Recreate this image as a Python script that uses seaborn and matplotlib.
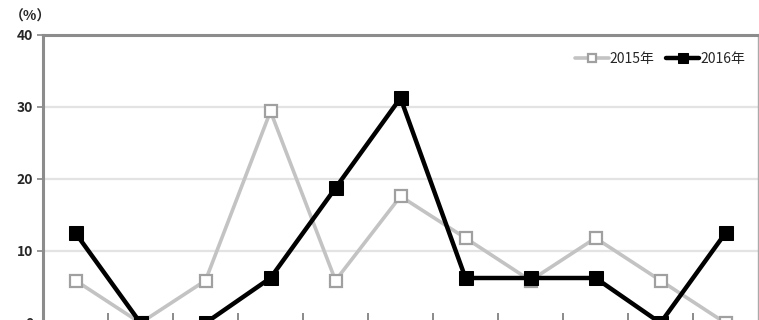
import matplotlib
matplotlib.use("Agg")
import matplotlib.pyplot as plt
import seaborn as sns
import pandas as pd
import numpy as np

positions = list(range(11))
v2015 = [5.9, 0, 5.9, 29.4, 5.9, 17.6, 11.8, 5.9, 11.8, 5.9, 0]
v2016 = [12.5, 0, 0, 6.25, 18.75, 31.25, 6.25, 6.25, 6.25, 0, 12.5]
series_names = ["2015年", "2016年"]
yticks = [0, 10, 20, 30, 40]

sns.set_style("white")
plt.rcParams['font.family'] = ['Noto Sans CJK JP', 'DejaVu Sans']

df = pd.DataFrame({
    "pos": positions * 2,
    "val": v2015 + v2016,
    "series": [series_names[0]] * len(v2015) + [series_names[1]] * len(v2016),
})

fig = plt.figure(figsize=(7.59, 3.2), dpi=100)
ax = fig.add_axes([43/759, -3/320, 715/759, (323-35)/320])

ax.set_xlim(-0.5, 10.5)
ax.set_ylim(0, 40)
ax.set_yticks(yticks)
for y in yticks[1:]:
    ax.axhline(y, color="#e3e3e3", lw=1.6, zorder=0)

sns.lineplot(data=df[df.series == series_names[0]], x="pos", y="val", ax=ax,
             color="#c3c3c3", lw=2.6, marker="s", markersize=9,
             markerfacecolor="white", markeredgecolor="#a0a0a0", markeredgewidth=1.6,
             label=series_names[0], zorder=3)
sns.lineplot(data=df[df.series == series_names[1]], x="pos", y="val", ax=ax,
             color="black", lw=3.2, marker="s", markersize=9.5,
             markerfacecolor="black", markeredgecolor="black",
             label=series_names[1], zorder=4)

ax.set_xlabel("")
ax.set_ylabel("")
ax.set_xticks([])
ax.set_xticks(np.arange(0.5, 10, 1), minor=True)
ax.tick_params(axis="x", which="minor", direction="in", length=7, width=1.2, color="#777777", bottom=True)
ax.tick_params(axis="y", which="major", direction="out", length=4, width=1.2, color="#888888",
               labelsize=10, pad=3, left=True)
for lab in ax.get_yticklabels():
    lab.set_fontweight("bold")

for side in ["left", "top"]:
    ax.spines[side].set_color("#8c8c8c")
    ax.spines[side].set_linewidth(2.2)
ax.spines["right"].set_color("#aaaaaa")
ax.spines["right"].set_linewidth(1)
ax.spines["bottom"].set_color("#8c8c8c")
ax.spines["bottom"].set_linewidth(2)

fig.text(10/759, 1 - 17/320, "（%）", fontsize=10, fontweight="bold", va="center", ha="left")

leg = ax.legend(loc="upper right", bbox_to_anchor=(1.0, 0.985), frameon=False, ncol=2,
                fontsize=10, handlelength=2.4, handletextpad=0.1, columnspacing=0.8,
                markerscale=0.7)

fig.savefig("out.png", dpi=100)
